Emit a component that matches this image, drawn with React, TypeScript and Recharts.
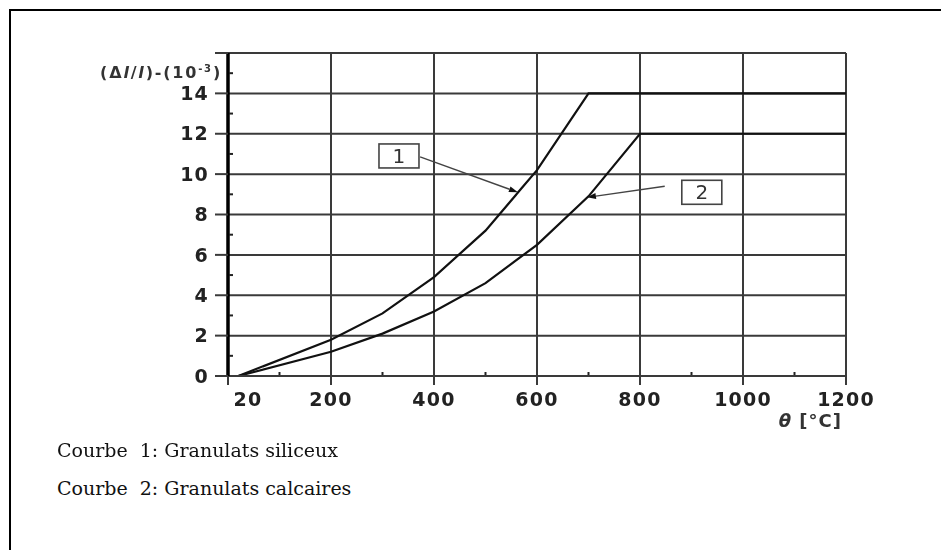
import { LineChart, Line, XAxis, YAxis, CartesianGrid, ReferenceDot, ReferenceLine } from 'recharts'

const X_TICKS = [0, 200, 400, 600, 800, 1000, 1200]
const X_TICK_LABELS = ['20', '200', '400', '600', '800', '1000', '1200']
const Y_TICKS = [0, 2, 4, 6, 8, 10, 12, 14, 16]
const X_MINOR = [100, 300, 500, 700, 900, 1100]
const Y_MINOR = [1, 3, 5, 7, 9, 11, 13, 15]

// curve 1: granulats siliceux
const TEMP_SILICEUX = [20, 200, 300, 400, 500, 600, 700, 1200]
const STRAIN_SILICEUX = [0, 1.8, 3.1, 4.9, 7.2, 10.2, 14, 14]
// curve 2: granulats calcaires
const TEMP_CALCAIRES = [20, 200, 300, 400, 500, 600, 700, 800, 1200]
const STRAIN_CALCAIRES = [0, 1.2, 2.1, 3.2, 4.6, 6.5, 8.9, 12, 12]

// numbered callouts, in data units (°C, 10^-3)
const CALLOUTS = [
  { label: '1', boxT: 332, boxV: 10.9, fromT: 373, fromV: 10.85, toT: 563, toV: 9.1 },
  { label: '2', boxT: 920, boxV: 9.1, fromT: 848, fromV: 9.4, toT: 697, toV: 8.85 },
]

const LEGEND_LINES = ['Courbe  1: Granulats siliceux', 'Courbe  2: Granulats calcaires']

const siliceux = TEMP_SILICEUX.map((t, i) => ({ t, v: STRAIN_SILICEUX[i] }))
const calcaires = TEMP_CALCAIRES.map((t, i) => ({ t, v: STRAIN_CALCAIRES[i] }))

const GRID = '#3a3a3a'
const TICK_FONT = { fill: '#222', fontSize: 19, fontWeight: 700, fontFamily: 'DejaVu Sans', letterSpacing: 1.2 }

function XTick({ x, y, payload }: any) {
  const i = X_TICKS.indexOf(payload.value)
  return (
    <text x={i === 0 ? x + 20 : x} y={y} dy="0.75em" textAnchor="middle" {...TICK_FONT}>
      {X_TICK_LABELS[i]}
    </text>
  )
}

function Arrow({ x1, y1, x2, y2 }: any) {
  const a = Math.atan2(y2 - y1, x2 - x1)
  const bx = x2 - 9 * Math.cos(a)
  const by = y2 - 9 * Math.sin(a)
  const px = -Math.sin(a) * 3
  const py = Math.cos(a) * 3
  return (
    <g>
      <line x1={x1} y1={y1} x2={bx} y2={by} stroke="#444" strokeWidth={1.4} />
      <polygon points={`${x2},${y2} ${bx + px},${by + py} ${bx - px},${by - py}`} fill="#111" />
    </g>
  )
}

function Box({ cx, cy, label }: any) {
  return (
    <g>
      <rect x={cx - 20} y={cy - 12} width={40} height={24} fill="#fff" stroke="#444" strokeWidth={1.6} />
      <text x={cx} y={cy + 7} textAnchor="middle" fontSize={20} fontFamily="DejaVu Sans" fill="#333">
        {label}
      </text>
    </g>
  )
}

const edge = { position: 'fixed' as const, background: '#000', pointerEvents: 'none' as const }

export default function App() {
  return (
    <div style={{ position: 'relative', width: 925, height: 534, background: '#fff' }}>
      {/* page frame: only top and left edges show in the reference */}
      <div style={{ ...edge, left: 9, top: 9, width: 932, height: 2 }} />
      <div style={{ ...edge, left: 9, top: 9, width: 2, height: 541 }} />
      <div style={{ position: 'absolute', left: 0, top: 0 }}>
        <LineChart width={925} height={440} margin={{ top: 45, right: 87, bottom: 42, left: 180 }}>
          <CartesianGrid stroke={GRID} strokeWidth={2} />
          <XAxis
            type="number"
            dataKey="t"
            domain={[0, 1200]}
            ticks={X_TICKS}
            height={30}
            tickSize={9}
            tickMargin={7}
            tick={<XTick />}
            axisLine={{ stroke: GRID, strokeWidth: 2 }}
            tickLine={{ stroke: GRID, strokeWidth: 2 }}
            allowDataOverflow
          />
          <YAxis
            type="number"
            domain={[0, 16]}
            ticks={Y_TICKS}
            width={40}
            tickSize={13}
            tickMargin={6}
            tick={TICK_FONT}
            tickFormatter={(v: number) => (v === 16 ? '' : String(v))}
            axisLine={{ stroke: '#000', strokeWidth: 3.5 }}
            tickLine={{ stroke: GRID, strokeWidth: 2 }}
            allowDataOverflow
          />
          {X_MINOR.map((t) => (
            <ReferenceDot
              key={`xm${t}`} x={t} y={0} ifOverflow="visible"
              shape={({ cx, cy }: any) => <line x1={cx} y1={cy - 1} x2={cx} y2={cy - 4} stroke="#222" strokeWidth={2} />}
            />
          ))}
          {Y_MINOR.map((v) => (
            <ReferenceDot
              key={`ym${v}`} x={0} y={v} ifOverflow="visible"
              shape={({ cx, cy }: any) => <line x1={cx + 1} y1={cy} x2={cx + 5} y2={cy} stroke="#222" strokeWidth={2} />}
            />
          ))}
          <Line data={siliceux} dataKey="v" type="linear" stroke="#111" strokeWidth={2.2} dot={false} isAnimationActive={false} />
          <Line data={calcaires} dataKey="v" type="linear" stroke="#111" strokeWidth={2.2} dot={false} isAnimationActive={false} />
          {CALLOUTS.map((c) => (
            <ReferenceLine
              key={`a${c.label}`}
              segment={[{ x: c.fromT, y: c.fromV }, { x: c.toT, y: c.toV }]}
              ifOverflow="visible"
              shape={<Arrow />}
            />
          ))}
          {CALLOUTS.map((c) => (
            <ReferenceDot
              key={`b${c.label}`} x={c.boxT} y={c.boxV} ifOverflow="visible"
              shape={(p: any) => <Box cx={p.cx} cy={p.cy} label={c.label} />}
            />
          ))}
          <ReferenceDot
            x={0} y={15} ifOverflow="visible"
            shape={({ cx, cy }: any) => (
              <text x={cx - 6} y={cy + 5} textAnchor="end" fontSize={16} fontWeight={700} fontFamily="DejaVu Sans" fill="#333" letterSpacing={1.8}>
                (Δ<tspan fontStyle="italic">l</tspan>/<tspan fontStyle="italic">l</tspan>)-(10<tspan fontSize={10} dy={-6}>-3</tspan><tspan dy={6}>)</tspan>
              </text>
            )}
          />
          <ReferenceDot
            x={1200} y={0} ifOverflow="visible"
            shape={({ cx, cy }: any) => (
              <text x={cx - 4} y={cy + 51} textAnchor="end" fontSize={18} fontWeight={700} fontFamily="DejaVu Sans" fill="#333" letterSpacing={1}>
                <tspan fontStyle="italic">θ</tspan> [°C]
              </text>
            )}
          />
        </LineChart>
      </div>
      {LEGEND_LINES.map((s, i) => (
        <div
          key={s}
          style={{
            position: 'absolute', left: 49, top: 431 + i * 38, lineHeight: '22px',
            fontFamily: '"DejaVu Serif"', fontSize: 19, color: '#111', whiteSpace: 'pre',
          }}
        >
          {s}
        </div>
      ))}
    </div>
  )
}
